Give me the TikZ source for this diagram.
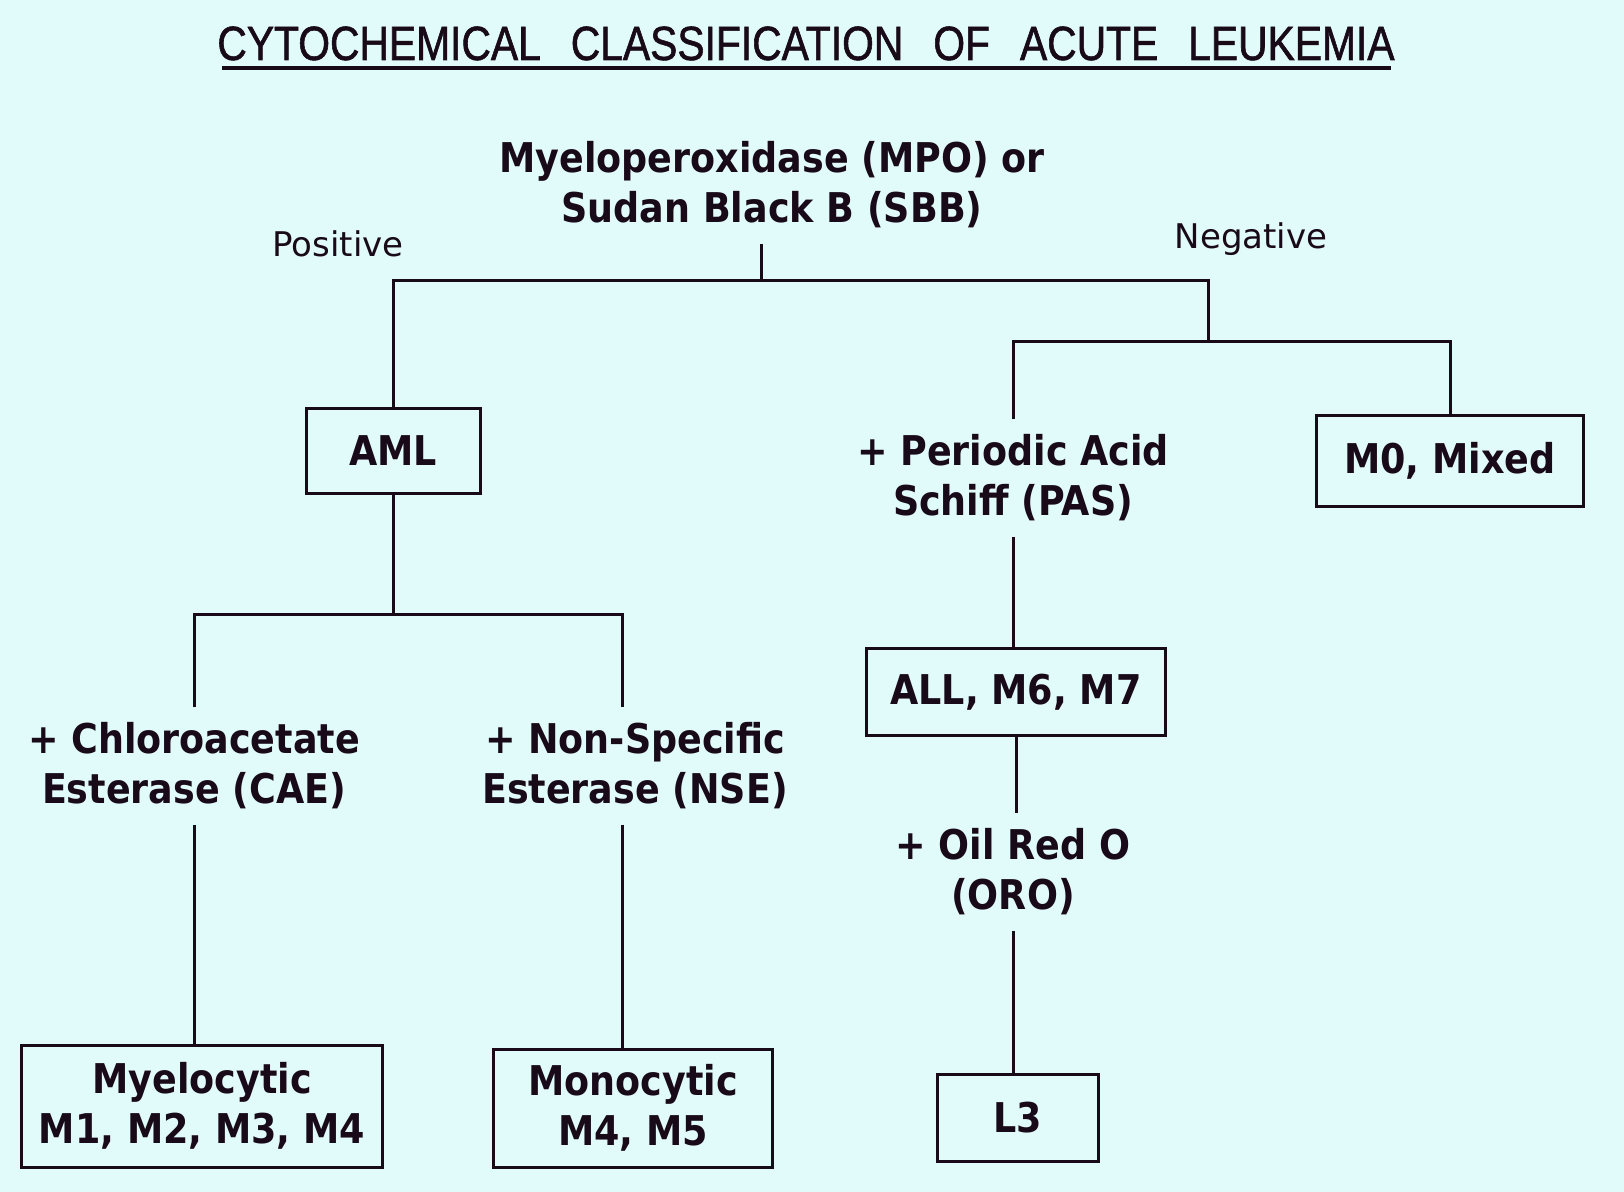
\documentclass[tikz,border=0pt]{standalone}
\usepackage{fontspec}
\setmainfont{DejaVu Sans}
\newfontfamily\titlefont[FakeStretch=0.85,FakeBold=1.2]{Liberation Sans}
\newfontfamily\boldf[FakeStretch=0.89]{DejaVu Sans}
\newfontfamily\labf{DejaVu Sans}
\definecolor{bg}{RGB}{225,250,250}
\definecolor{ink}{RGB}{25,10,25}
\begin{document}
\begin{tikzpicture}[x=0.5pt,y=-0.5pt,
  lbl/.style={font=\boldf\bfseries\fontsize{20.5}{25}\selectfont, text=ink, align=center, inner xsep=0pt, inner ysep=7.5pt},
  box/.style={draw=ink, line width=1.5pt, font=\boldf\bfseries\fontsize{20.5}{25}\selectfont, text=ink, align=center, inner sep=0pt},
  wire/.style={draw=ink, line width=1.5pt},
  side/.style={font=\labf\fontsize{17}{20}\selectfont, text=ink, inner sep=0pt}]
\fill[bg] (0,0) rectangle (1624,1192);
\useasboundingbox (0,0) rectangle (1624,1192);
% title
\node[anchor=base, text=ink, inner sep=0pt, font=\titlefont\fontsize{24}{28}\selectfont] (title) at (806,60)
  {CYTOCHEMICAL\hspace{15pt}CLASSIFICATION\hspace{15pt}OF\hspace{15pt}ACUTE\hspace{15pt}LEUKEMIA};
\draw[ink, line width=2pt] (222,68) -- (1391,68);
% nodes
\node[lbl] (mpo) at (772,185) {Myeloperoxidase (MPO) or\\Sudan Black B (SBB)};
\node[side] (pos) at (338,244) {Positive};
\node[side] (neg) at (1251,239) {Negative};
\node[box, minimum width=87pt, minimum height=42.5pt] (aml) at (393,451) {AML};
\node[lbl] (pas) at (1013,478) {+ Periodic Acid\\Schiff (PAS)};
\node[box, minimum width=133.5pt, minimum height=45.5pt] (m0) at (1450,461) {M0, Mixed};
\node[lbl] (cae) at (194,766) {+ Chloroacetate\\Esterase (CAE)};
\node[lbl] (nse) at (635,766) {+ Non-Specific\\Esterase (NSE)};
\node[box, minimum width=149.5pt, minimum height=43pt] (all) at (1016,692) {ALL, M6, M7};
\node[lbl] (oro) at (1013,872) {+ Oil Red O\\(ORO)};
\node[box, minimum width=180.5pt, minimum height=61pt] (myelo) at (202,1106) {Myelocytic\\M1, M2, M3, M4};
\node[box, minimum width=139.5pt, minimum height=59pt] (mono) at (633,1108) {Monocytic\\M4, M5};
\node[box, minimum width=80.5pt, minimum height=43.5pt] (l3) at (1018,1118) {L3};
% junctions
\coordinate (j1) at (761,281);
\coordinate (jr) at (1208,342);
\coordinate (jaml) at (393,615);
% connectors
\draw[wire] (mpo.south -| j1) -- (j1);
\draw[wire] (aml.north) |- (j1) -| (jr);
\draw[wire] (pas.north) |- (jr) -| (m0.north);
\draw[wire] (aml.south) -- (jaml);
\draw[wire] (cae.north) |- (jaml) -| ([xshift=-6.5pt]nse.north);
\draw[wire] (cae.south) -- (cae.south |- myelo.north);
\draw[wire] ([xshift=-6.5pt]nse.south) -- ([xshift=-6.5pt]nse.south |- mono.north);
\draw[wire] (pas.south) -- (pas.south |- all.north);
\draw[wire] (all.south) -- (all.south |- oro.north);
\draw[wire] (oro.south) -- (oro.south |- l3.north);
\end{tikzpicture}
\end{document}
